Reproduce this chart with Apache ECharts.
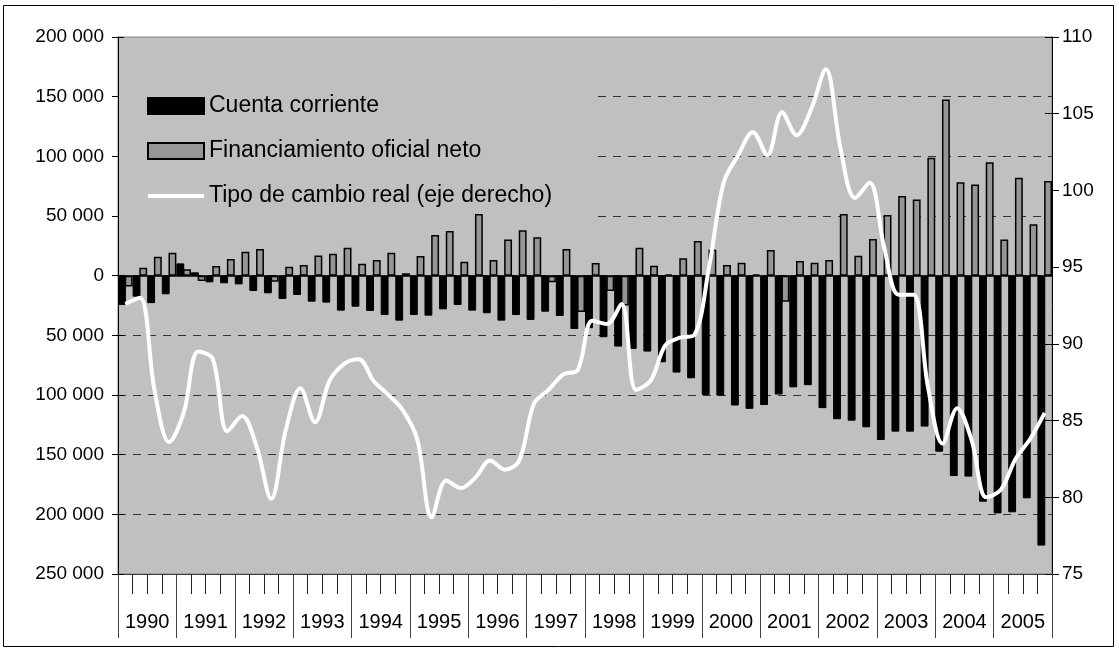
<!DOCTYPE html>
<html>
<head>
<meta charset="utf-8">
<script src="https://cdn.jsdelivr.net/npm/echarts@6/dist/echarts.min.js"></script>
<style>
    html, body { margin: 0; padding: 0; background: #fff; }
    #chart { width: 1119px; height: 650px; }
</style>
</head>
<body>
<div id="chart"></div>
<script>
// años y trimestres
let years = ['1990', '1991', '1992', '1993', '1994', '1995', '1996', '1997',
    '1998', '1999', '2000', '2001', '2002', '2003', '2004', '2005'];
let quarters = years.flatMap(y => ['T1', 'T2', 'T3', 'T4'].map(q => y + q));

// cuenta corriente (barras negras)
let cuentaCorriente = [
    -24500, -17600, -23000, -15600,
    10300, 2800, -5600, -6400,
    -7300, -12800, -14800, -19500,
    -16200, -21800, -22600, -29300,
    -26000, -29600, -33000, -37700,
    -33000, -33500, -28200, -24600,
    -29300, -31500, -37700, -33000,
    -37100, -30200, -33800, -44700,
    -44000, -51600, -59400, -61400,
    -63600, -72600, -81200, -86000,
    -100000, -100500, -108800, -111600,
    -108400, -99600, -93600, -91800,
    -111000, -120300, -121500, -127100,
    -137700, -130700, -130700, -126500,
    -147500, -167900, -168400, -189400,
    -199200, -198300, -186600, -226200
];

// financiamiento oficial neto (barras grises)
let financiamiento = [
    -9000, 6700, 15900, 19300,
    5300, -4500, 8100, 14000,
    20100, 22300, -5000, 7500,
    9000, 17000, 18400, 23400,
    10000, 13100, 19300, 2000,
    16500, 34000, 37500, 11700,
    51700, 13100, 30400, 38000,
    32100, -5500, 22300, -30500,
    10600, -12800, -25000, 23400,
    8400, 1000, 14500, 29000,
    21800, 8900, 10900, 1000,
    21500, -21800, 12300, 10900,
    13100, 51700, 16700, 30700,
    50800, 66700, 63900, 98800,
    147700, 78200, 76500, 95000,
    30400, 82100, 43000, 79300
];

// tipo de cambio real (eje derecho)
let tipoCambio = [
    92.6, 93.0, 87.0, 83.6,
    85.5, 89.5, 89.0, 84.3,
    85.3, 83.3, 79.9, 84.4,
    87.1, 84.9, 87.6, 88.7,
    89.0, 87.6, 86.7, 85.7,
    83.8, 78.7, 81.1, 80.6,
    81.3, 82.4, 81.8, 82.4,
    86.1, 87.0, 88.0, 88.3,
    91.5, 91.3, 92.6, 87.0,
    87.6, 89.9, 90.4, 90.6,
    95.0, 100.5, 102.3, 103.8,
    102.3, 105.1, 103.6, 105.3,
    107.9, 102.8, 99.5, 100.5,
    96.3, 93.2, 93.2, 87.2,
    83.5, 85.8, 83.7, 80.0,
    80.5, 82.5, 83.8, 85.5
];

let fontFamily = '"Liberation Sans", Arial, sans-serif';

function fmt(v) {
    let a = Math.abs(v);
    return String(a).replace(/\B(?=(\d{3})+(?!\d))/g, ' ');
}

let myChart = echarts.init(document.getElementById('chart'));
let option = {
    animation: false,
    textStyle: { fontFamily: fontFamily },
    grid: {
        left: 118, right: 67, top: 37, bottom: 76,
        show: true,
        backgroundColor: '#c0c0c0',
        borderColor: '#808080',
        borderWidth: 1
    },
    legend: {
        orient: 'vertical',
        left: 119,
        top: 85,
        padding: [9, 10, 12, 27],
        itemWidth: 56,
        itemHeight: 16,
        itemGap: 21,
        textStyle: { fontSize: 23, color: '#000', lineHeight: 24, fontFamily: fontFamily },
        data: [
            { name: 'Cuenta corriente', icon: 'rect' },
            { name: 'Financiamiento oficial neto', icon: 'rect' },
            {
                name: 'Tipo de cambio real (eje derecho)',
                itemStyle: { opacity: 0 },
                lineStyle: { color: '#fff', width: 4 }
            }
        ]
    },
    graphic: [
        // fondo de la leyenda (tapa las líneas de división)
        { type: 'rect', z: 1, shape: { x: 119, y: 62, width: 476, height: 162 }, style: { fill: '#c0c0c0' } },
        // marco exterior
        { type: 'rect', z: 10, shape: { x: 3.5, y: 5.5, width: 1110, height: 641 }, style: { fill: 'none', stroke: '#000', lineWidth: 1 } }
    ],
    xAxis: [
        {
            type: 'category',
            data: quarters,
            position: 'bottom',
            axisLine: { show: true, onZero: false, lineStyle: { color: '#404040', width: 1 } },
            axisTick: { show: true, interval: 0, length: 20, lineStyle: { color: '#222' } },
            axisLabel: { show: false },
            splitLine: { show: false }
        },
        {
            type: 'category',
            data: years,
            position: 'bottom',
            axisLine: { show: false, onZero: false },
            axisTick: { show: true, interval: 0, length: 64, lineStyle: { color: '#404040' } },
            axisLabel: { show: true, interval: 0, fontSize: 20, color: '#000', margin: 38 },
            splitLine: { show: false }
        }
    ],
    yAxis: [
        {
            type: 'value',
            min: -250000, max: 200000, interval: 50000,
            position: 'left',
            axisLine: { show: true, lineStyle: { color: '#000' } },
            axisTick: { show: true, length: 6, lineStyle: { color: '#000' } },
            axisLabel: { fontSize: 19, color: '#000', margin: 14, formatter: fmt },
            splitLine: {
                show: true, showMinLine: false, showMaxLine: false,
                lineStyle: { color: '#333', type: [8, 7], width: 1 }
            }
        },
        {
            type: 'value',
            min: 75, max: 110, interval: 5,
            position: 'right',
            axisLine: { show: true, lineStyle: { color: '#000' } },
            axisTick: { show: true, length: 7, lineStyle: { color: '#000' } },
            axisLabel: { fontSize: 19, color: '#000', margin: 10 },
            splitLine: { show: false }
        },
        {   // marcas interiores eje izquierdo
            type: 'value',
            min: -250000, max: 200000, interval: 50000,
            position: 'left',
            axisLine: { show: false },
            axisTick: { show: true, inside: true, length: 6, lineStyle: { color: '#000' } },
            axisLabel: { show: false },
            splitLine: { show: false }
        },
        {   // marcas interiores eje derecho
            type: 'value',
            min: 75, max: 110, interval: 5,
            position: 'right',
            axisLine: { show: false },
            axisTick: { show: true, inside: true, length: 7, lineStyle: { color: '#000' } },
            axisLabel: { show: false },
            splitLine: { show: false }
        }
    ],
    series: [
        {
            name: 'Cuenta corriente',
            type: 'bar',
            xAxisIndex: 0,
            yAxisIndex: 0,
            data: cuentaCorriente,
            barCategoryGap: '0%',
            barGap: '-15%',
            itemStyle: { color: '#000', borderColor: '#000', borderWidth: 1 },
            markLine: {
                silent: true,
                symbol: 'none',
                label: { show: false },
                lineStyle: { color: '#000', type: 'solid', width: 1.5 },
                data: [{ yAxis: 0 }]
            }
        },
        {
            name: 'Financiamiento oficial neto',
            type: 'bar',
            xAxisIndex: 0,
            yAxisIndex: 0,
            data: financiamiento,
            barCategoryGap: '0%',
            barGap: '-15%',
            itemStyle: { color: '#969696', borderColor: '#000', borderWidth: 1.5 }
        },
        {
            name: 'Tipo de cambio real (eje derecho)',
            type: 'line',
            xAxisIndex: 0,
            yAxisIndex: 1,
            data: tipoCambio,
            smooth: 0.35,
            symbol: 'none',
            z: 5,
            lineStyle: { color: '#fff', width: 4 },
            itemStyle: { color: '#fff' }
        }
    ]
};
myChart.setOption(option);
</script>
</body>
</html>
